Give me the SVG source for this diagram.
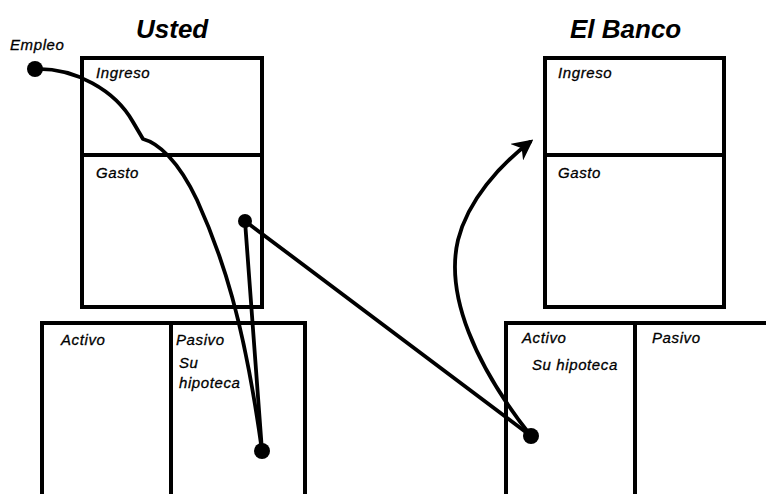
<svg xmlns="http://www.w3.org/2000/svg" width="766" height="494" viewBox="0 0 766 494">
<style>
.box{fill:none;stroke:#000;stroke-width:4}
.t{font-family:"Liberation Sans",Arial,sans-serif;font-style:italic;font-size:15px;letter-spacing:0.6px;fill:#000;stroke:#000;stroke-width:0.3}
.h{font-family:"Liberation Sans",Arial,sans-serif;font-style:italic;font-weight:bold;font-size:26px;fill:#000}
.c{fill:none;stroke:#000;stroke-width:3.8;stroke-linecap:round;stroke-linejoin:round}
.dot{fill:#000}
</style>
<defs>
<marker id="arr" viewBox="0 0 10 10" refX="8" refY="5" markerWidth="5.5" markerHeight="5.5" orient="auto" markerUnits="strokeWidth">
<path d="M0,0 L10,5 L0,10 L3,5 Z" fill="#000"/>
</marker>
</defs>
<rect width="766" height="494" fill="#fff"/>
<g id="usted-title"><text class="h" x="136" y="38">Usted</text></g>
<g id="banco-title"><text class="h" x="570" y="38">El Banco</text></g>
<g id="empleo"><text class="t" x="10" y="50">Empleo</text><circle class="dot" cx="35" cy="69" r="8"/></g>
<g id="usted-resultados">
<rect class="box" x="82" y="58" width="180" height="249"/>
<line class="box" x1="82" y1="155" x2="262" y2="155"/>
<text class="t" x="96" y="78">Ingreso</text>
<text class="t" x="96" y="178">Gasto</text>
</g>
<g id="usted-balance">
<path class="box" d="M42,494 V323 H305 V494 M171,323 V494"/>
<text class="t" x="61" y="345">Activo</text>
<text class="t" x="176" y="345">Pasivo</text>
<text class="t" x="179" y="368">Su</text>
<text class="t" x="179" y="388">hipoteca</text>
</g>
<g id="banco-resultados">
<rect class="box" x="545" y="58" width="179" height="249"/>
<line class="box" x1="545" y1="155" x2="724" y2="155"/>
<text class="t" x="558" y="78">Ingreso</text>
<text class="t" x="558" y="178">Gasto</text>
</g>
<g id="banco-balance">
<path class="box" d="M506,494 V323 H770 M635,323 V494"/>
<text class="t" x="522" y="343">Activo</text>
<text class="t" x="532" y="370">Su hipoteca</text>
<text class="t" x="652" y="343">Pasivo</text>
</g>
<g id="connectors">
<path class="c" d="M35,69 C75,68 115,90 133,122 L143,139 C158,143 178,160 197,200 C222,255 244,320 262,451"/>
<line class="c" x1="245" y1="221" x2="262" y2="451"/>
<line class="c" x1="245" y1="221" x2="531" y2="436"/>
<path class="c" d="M531,436 C475,365 445,295 458,240 C468,200 500,165 530,142" marker-end="url(#arr)"/>
<circle class="dot" cx="262" cy="451" r="8"/>
<circle class="dot" cx="245" cy="221" r="7"/>
<circle class="dot" cx="531" cy="436" r="8"/>
</g>
</svg>
